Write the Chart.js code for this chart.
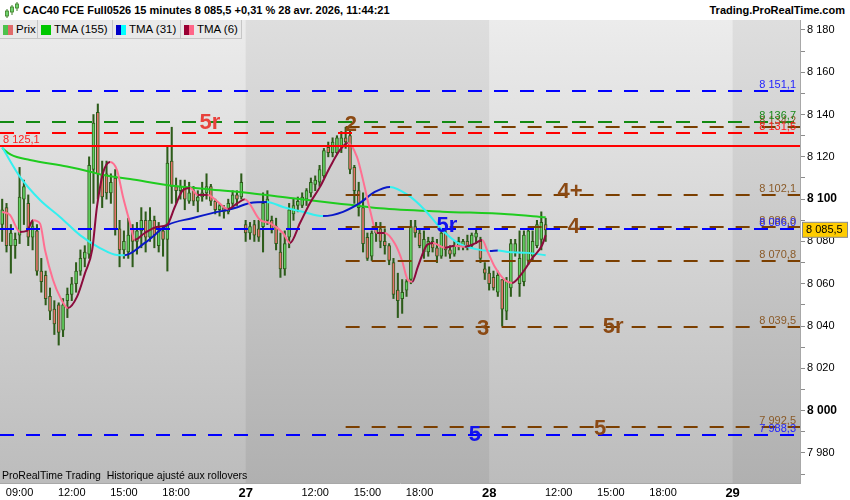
<!DOCTYPE html>
<html><head><meta charset="utf-8">
<script src="https://cdn.jsdelivr.net/npm/chart.js@4/dist/chart.umd.min.js"></script>
<style>
body{margin:0;background:#fff;font-family:"Liberation Sans",Arial,sans-serif;}
#wrap{position:relative;width:850px;height:500px;overflow:hidden;background:#fff;}
#hdr{position:absolute;left:0;top:0;width:850px;height:20px;background:#fff;}
#title{position:absolute;left:23px;top:0;line-height:20px;font-weight:bold;font-size:11px;color:#000;white-space:nowrap;}
#site{position:absolute;right:5px;top:0;line-height:20px;font-weight:bold;font-size:11px;color:#000;}
#cv{position:absolute;left:0;top:20px;}
.cell{position:absolute;top:20px;height:18px;background:#e9e9e9;border-right:1px solid #c6c6c6;border-bottom:1px solid #c6c6c6;font-size:11.5px;line-height:18px;color:#000;white-space:nowrap;}
.sw{position:absolute;top:5px;height:10px;}
.cell span.t{position:absolute;top:0;}
#note{position:absolute;left:2px;top:469px;font-size:10.5px;color:#000;white-space:nowrap;}
</style></head>
<body>
<div id="wrap">
  <canvas id="cv" width="850" height="480"></canvas>
  <div id="hdr">
    <svg width="16" height="18" style="position:absolute;left:4px;top:1px">
      <line x1="3" y1="8" x2="3" y2="17" stroke="#3a7d22" stroke-width="1"/>
      <rect x="1.5" y="10" width="3" height="5" fill="#6fd36f" stroke="#3a7d22" stroke-width="0.8"/>
      <line x1="8" y1="4" x2="8" y2="14" stroke="#3a7d22" stroke-width="1"/>
      <rect x="6.5" y="6" width="3" height="5" fill="#6fd36f" stroke="#3a7d22" stroke-width="0.8"/>
      <line x1="13" y1="1" x2="13" y2="10" stroke="#3a7d22" stroke-width="1"/>
      <rect x="11.5" y="3" width="3" height="4" fill="#6fd36f" stroke="#3a7d22" stroke-width="0.8"/>
    </svg>
    <div id="title">CAC40 FCE Full0526 15 minutes 8 085,5 +0,31 % 28 avr. 2026, 11:44:21</div>
    <div id="site">Trading.ProRealTime.com</div>
  </div>
  <div class="cell" style="left:0;width:37px;"><div class="sw" style="left:3px;width:5px;background:#4cc24c"></div><div class="sw" style="left:8px;width:5px;background:#e06a6a"></div><span class="t" style="left:16px">Prix</span></div>
  <div class="cell" style="left:38px;width:74px;"><div class="sw" style="left:3px;width:10px;background:#00c800"></div><span class="t" style="left:16px">TMA (155)</span></div>
  <div class="cell" style="left:113px;width:67px;"><div class="sw" style="left:3px;width:5px;background:#0000c8"></div><div class="sw" style="left:8px;width:5px;background:#00ffff"></div><span class="t" style="left:16px">TMA (31)</span></div>
  <div class="cell" style="left:181px;width:60px;"><div class="sw" style="left:3px;width:5px;background:#990033"></div><div class="sw" style="left:8px;width:5px;background:#ff6688"></div><span class="t" style="left:16px">TMA (6)</span></div>
  <div id="note">ProRealTime Trading&nbsp; Historique ajusté aux rollovers</div>
</div>
<script>
// ---------- DATA ----------
const opens  = [8088,8096,8078,8078,8083,8100,8098,8082,8085,8066,8064,8054,8048,8050,8038,8052,8055,8060,8066,8072,
                8074,8114,8141,8112,8112,8103,8110,8086,8076,8075,8086,8080,8085,8090,8082,8090,8078,8085,8081,8118,
                8106,8104,8106,8099,8104,8099,8101,8103,8106,8099,8095,8096,8094,8098,8102,8101,
                8088,8084,8088,8086,8087,8090,8090,8087,8075,8067,8082,8093,8097,8097,8100,8103,8107,8108,8111,8124.5,
                8122,8122,8125,8129,8130,8115,8104,8096,8082,8073,8084,8086,8080,8078,8070,8057,8053,8057,8062,8087,
                8084,8075,8075,8080,8077,8073,8084,8076,8074,8078,8078,8080,8078,8082,8080,8067,
                8065,8063,8056,8062,8047,8058,8075,8060,8061,8071,8073,8078,8081,8088];
const highs  = [8100,8098,8088,8084,8115,8109,8102,8090,8088,8072,8066,8058,8052,8051,8053,8058,8063,8070,8076,8078,
                8120,8140,8145,8118,8118,8112,8114,8090,8085,8091,8088,8089,8096,8094,8096,8092,8089,8087,8125,8134,
                8110,8109,8109,8108,8106,8104,8108,8112,8107,8100,8098,8097,8100,8104,8104,8112,
                8090,8089,8090,8090,8103,8104,8092,8091,8084,8085,8098,8100,8101,8103,8105,8110,8111,8116,8124,8127,
                8129,8130,8132,8134,8133,8116,8108,8103,8084,8085,8089,8089,8086,8079,8072,8065,8062,8062,8090,8090,
                8086,8085,8082,8082,8081,8086,8085,8078,8080,8082,8081,8083,8084,8086,8082,8070,
                8068,8066,8066,8062,8063,8081,8081,8085,8085,8086,8085,8090,8094,8091];
const lows   = [8080,8075,8065,8072,8079,8088,8078,8076,8064,8056,8050,8043,8036,8031,8035,8044,8052,8056,8064,8068,
                8072,8098,8100,8096,8100,8098,8083,8068,8072,8072,8068,8074,8077,8075,8080,8077,8075,8073,8066,8098,
                8098,8100,8095,8098,8097,8094,8099,8100,8097,8093,8092,8091,8093,8096,8097,8100,
                8080,8081,8080,8080,8075,8088,8084,8076,8063,8064,8077,8090,8094,8096,8097,8101,8104,8106,8110,8120,
                8120,8121,8122,8124,8112,8098,8092,8075,8071,8071,8080,8077,8074,8069,8053,8044,8046,8054,8060,8082,
                8077,8072,8073,8075,8070,8072,8073,8072,8073,8076,8076,8076,8077,8079,8070,8062,
                8057,8057,8054,8040,8043,8054,8073,8054,8059,8069,8071,8077,8076,8080];
const closes = [8095,8078,8084,8081,8101,8106,8082,8087,8066,8061,8053,8047,8041,8037,8050,8055,8060,8066,8072,8075,
                8116,8136,8112,8101,8103,8108,8086,8076,8080,8083,8080,8085,8090,8082,8090,8083,8085,8081,8117,8106,
                8104,8106,8100,8103,8099,8101,8103,8106,8099,8095,8097,8094,8098,8102,8100,8108,
                8084,8087,8083,8082,8098,8100,8086,8079,8067,8079,8095,8097,8099,8101,8104,8108,8109,8114,8123,8122,
                8127,8129,8129,8127,8114,8104,8096,8079,8072,8084,8086,8080,8078,8071,8055,8052,8056,8061,8087,8084,
                8078,8081,8080,8077,8073,8084,8076,8074,8078,8080,8080,8078,8083,8084,8072,8065,
                8060,8058,8064,8048,8061,8079,8079,8072,8083,8085,8080,8088,8089,8085.5];

// moving averages read at sampled bar positions (bar index, value)
const tma155Idx = [0,2,6.4,14.9,20.2,23.2,29.4,39.8,47.3,58.1,66.9,80,86.9,101.2,116.3,125];
const tma155Val = [8124.2,8121,8118.5,8115.4,8113,8111.4,8109.5,8106.2,8104.7,8102.6,8100.4,8097.3,8095.7,8094.1,8092.9,8091.4];
const tma31Idx = [0,4.1,8.7,13.3,17.9,22.5,26.4,28.2,32.8,38.1,43.7,48.3,53.5,57,60.9,64.6,69.2,73.8,78.4,82.3,85.7,89.2,93.3,97.2,101.2,104.8,108.7,112.2,114,116.3,120.9,125];
const tma31Val = [8124.5,8110.5,8099.6,8091.6,8083,8076.9,8073.6,8073.5,8079.3,8087.8,8091,8093.4,8095.8,8098.2,8098.7,8096.3,8094,8092,8094,8098.2,8103.4,8105.8,8102,8094.9,8085.4,8079.3,8076.5,8075.5,8075.7,8075,8074.6,8073.5];
const tma6Idx = [0,1.8,4.1,5.7,7.1,8.7,9.85,11.7,13.3,15.1,17.2,19.05,20.7,21.8,23.2,24.8,26.4,27.8,29.4,30.5,32.8,35.8,37.9,39.7,41.6,43.2,45,47.3,49.6,51.9,54.2,55.8,59.3,61.6,64.6,66.2,68.5,70.8,73.1,75.4,77.7,79.5,81.6,83,84.6,86.2,88,90.3,91.96,93.3,94.3,95.6,97.7,99.1,101.8,104.1,106.4,108.7,110.4,111.7,113.3,115.6,117.3,119.6,121.9,124.2,125];
const tma6Val = [8094,8092.5,8084.5,8085,8090,8088.5,8076,8061.8,8053.8,8048.5,8053.8,8065,8076,8096.3,8112.4,8117.6,8113.8,8101,8088.7,8080.7,8084,8086.9,8087.8,8096.3,8104.3,8105.3,8102,8102,8098.7,8095.4,8098.2,8100,8090.2,8088.7,8084,8079.3,8088.7,8098.2,8105.8,8115.2,8123.3,8126.6,8120,8109,8094.9,8084,8084,8079,8071,8061.8,8060.9,8068,8078.3,8079.3,8077,8078,8077.5,8079,8080.7,8075,8068,8061.8,8060.4,8065,8072,8078.3,8083];

// axis ticks
const xTickIdx  = [4,16,28,40,56,72,84,96,112,128,140,152,168];
const xTickText = ['09:00','12:00','15:00','18:00','27','12:00','15:00','18:00','28','12:00','15:00','18:00','29'];
const dayLabels = ['27','28','29'];
const dayStartIdx = [0,56,112,168];
const yTickVals = [7970,7980,7990,8000,8010,8020,8030,8040,8050,8060,8070,8080,8090,8100,8110,8120,8130,8140,8150,8160,8170,8180];
const yBoldVals = [8100,8000];

// horizontal levels
const levelPrice = [8134.2,8102.1,8086.9,8070.8,8039.5,7992.5,8151.1,8136.7,8131.5,8125.1,8086.0,7988.3];
const levelText  = ['8 134,2','8 102,1','8 086,9','8 070,8','8 039,5','7 992,5','8 151,1','8 136,7','8 131,5','8 125,1','8 086,0','7 988,3'];
const levelFrom  = [79,79,79,79,79,79,-0.5,-0.5,-0.5,-0.5,-0.5,-0.5];
const levelKind  = ['brown','brown','brown','brown','brown','brown','blue','green','red','redSolid','blue','blue'];

// text marks on chart
const noteText  = ['5r','2','4+','4','5r','3','5r','5','5'];
const noteIdx   = [47.8,80.2,130.6,131.5,102.3,110.6,140.5,108.7,137.5];
const notePrice = [8136.0,8135.1,8103.4,8086.9,8087.3,8038.6,8039.6,7988.5,7991.3];
const noteKind  = ['red','brown','brown','brown','blue','brown','brown','blue','brown'];

const lastPriceText = '8 085,5';

// ---------- STYLE ----------
const FAM = '"Liberation Sans", Arial, sans-serif';
const yMin = 7965.8, yMax = 8184.7;
const lineStyle = {
  brown:{color:'#7b3f00', text:'#8a5a28', dash:[14,12], w:2},
  blue:{color:'#0000ff', text:'#1f1fff', dash:[14,12], w:2},
  green:{color:'#138a13', text:'#1b8a1b', dash:[14,12], w:2},
  red:{color:'#ff0000', text:'#ff1a1a', dash:[14,12], w:2},
  redSolid:{color:'#ff0000', text:'#ff2020', dash:[], w:2}
};
const noteColor = {red:'#e8413c', brown:'#8b4a14', blue:'#1212ee'};
const fmt = v => String(v).replace(/\B(?=(\d{3})+(?!\d))/g,' ');

const idx = opens.map((_,i)=>i);
const wickData = idx.map(i=>({x:i, y:[lows[i], highs[i]]}));
const bodyData = idx.map(i=>({x:i, y:[opens[i], closes[i] === opens[i] ? closes[i]+0.3 : closes[i]]}));
const mk = (a,b)=>a.map((x,k)=>({x, y:b[k]}));

const bgPlugin = {
  id:'bg',
  beforeDraw(chart){
    const {ctx, chartArea:a, scales:{x}} = chart;
    ctx.save();
    const g1 = ctx.createLinearGradient(0,a.top,0,a.bottom);
    g1.addColorStop(0,'#ececec'); g1.addColorStop(1,'#bcbcbc');
    ctx.fillStyle = g1;
    ctx.fillRect(a.left,a.top,a.right-a.left,a.bottom-a.top);
    const g2 = ctx.createLinearGradient(0,a.top,0,a.bottom);
    g2.addColorStop(0,'#dedede'); g2.addColorStop(1,'#b0b0b0');
    ctx.fillStyle = g2;
    for (let d=1; d<dayStartIdx.length; d+=2){
      const x0 = x.getPixelForValue(dayStartIdx[d]);
      const x1 = d+1<dayStartIdx.length ? x.getPixelForValue(dayStartIdx[d+1]) : a.right;
      ctx.fillRect(x0,a.top,Math.min(x1,a.right)-x0,a.bottom-a.top);
    }
    ctx.restore();
  }
};

const levelPlugin = {
  id:'levels',
  afterDatasetsDraw(chart){
    const {ctx, chartArea:a, scales:{x,y}} = chart;
    ctx.save();
    ctx.beginPath(); ctx.rect(a.left,a.top,a.right-a.left,a.bottom-a.top); ctx.clip();
    levelPrice.forEach((p,k)=>{
      const st = lineStyle[levelKind[k]];
      const py = Math.round(y.getPixelForValue(p));
      const x0 = Math.max(a.left, x.getPixelForValue(levelFrom[k]));
      ctx.strokeStyle = st.color; ctx.lineWidth = st.w; ctx.setLineDash(st.dash);
      ctx.beginPath(); ctx.moveTo(x0,py); ctx.lineTo(a.right,py); ctx.stroke();
    });
    ctx.setLineDash([]);
    ctx.font = '11px '+FAM; ctx.textBaseline='alphabetic';
    levelPrice.forEach((p,k)=>{
      const st = lineStyle[levelKind[k]];
      const py = Math.round(y.getPixelForValue(p));
      ctx.fillStyle = st.text;
      if (levelKind[k]==='redSolid'){ ctx.textAlign='left'; ctx.fillText(levelText[k], a.left+3, py-3); }
      else { ctx.textAlign='right'; ctx.fillText(levelText[k], a.right-4, py-3); }
    });
    ctx.font = 'bold 22px '+FAM; ctx.textAlign='center'; ctx.textBaseline='middle';
    noteText.forEach((t,k)=>{
      ctx.fillStyle = noteColor[noteKind[k]];
      ctx.fillText(t, x.getPixelForValue(noteIdx[k]), y.getPixelForValue(notePrice[k]));
    });
    ctx.restore();
  },
  afterDraw(chart){
    const {ctx, chartArea:a, scales:{y}} = chart;
    const py = y.getPixelForValue(closes[closes.length-1]);
    ctx.save();
    ctx.fillStyle='#ffcc00'; ctx.strokeStyle='#8a8a8a'; ctx.lineWidth=1;
    ctx.fillRect(a.right+2.5, py-7.5, 45, 15); ctx.strokeRect(a.right+2.5, py-7.5, 45, 15);
    ctx.fillStyle='#000'; ctx.font='11px '+FAM; ctx.textAlign='left'; ctx.textBaseline='middle';
    ctx.fillText(lastPriceText, a.right+6, py+0.5);
    ctx.restore();
  }
};

const up = '#63d263', down = '#e5736b', edge = '#2d5c1a';
new Chart(document.getElementById('cv'), {
  type:'bar',
  data:{datasets:[
    {type:'line', label:'TMA (6)', data:mk(tma6Idx,tma6Val), borderWidth:2, pointRadius:0, tension:0.4, cubicInterpolationMode:'monotone', order:0,
      borderColor:'#ff6f91', segment:{borderColor:c=>c.p1.parsed.y>=c.p0.parsed.y?'#8b0b3c':'#ff6f91'}},
    {type:'line', label:'TMA (31)', data:mk(tma31Idx,tma31Val), borderWidth:2, pointRadius:0, tension:0.4, cubicInterpolationMode:'monotone', order:1,
      borderColor:'#33f0f0', segment:{borderColor:c=>c.p1.parsed.y>=c.p0.parsed.y?'#0a18c8':'#33f0f0'}},
    {type:'line', label:'TMA (155)', data:mk(tma155Idx,tma155Val), borderWidth:2, pointRadius:0, tension:0.4, cubicInterpolationMode:'monotone', order:2,
      borderColor:'#1fcc1f'},
    {type:'bar', label:'body', data:bodyData, grouped:false, barThickness:3, borderWidth:1, borderSkipped:false, borderColor:edge, order:5,
      backgroundColor:c=>{const i=c.dataIndex; return closes[i]>=opens[i]?up:down;}},
    {type:'bar', label:'wick', data:wickData, grouped:false, barThickness:1.4, backgroundColor:edge, order:6}
  ]},
  options:{
    responsive:false, animation:false, events:[],
    layout:{padding:0},
    plugins:{legend:{display:false}, tooltip:{enabled:false}},
    scales:{
      x:{type:'linear', min:-0.5, max:183.5, offset:false,
         grid:{display:false, drawTicks:false}, border:{display:true, color:'#a8a8a8'},
         afterBuildTicks:s=>{ s.ticks = xTickIdx.map(v=>({value:v})); },
         afterFit:s=>{ s.height = 17; s.paddingLeft = 0; s.paddingRight = 0; },
         ticks:{autoSkip:false, maxRotation:0, minRotation:0, padding:3, color:'#000',
           font:c=>{ const k=xTickIdx.indexOf(c.tick&&c.tick.value); return (k>=0 && dayLabels.includes(xTickText[k]))?{family:FAM,size:13,weight:'bold'}:{family:FAM,size:11}; },
           callback:v=>{ const k=xTickIdx.indexOf(v); return k<0?'':xTickText[k]; }}
      },
      y:{position:'right', min:yMin, max:yMax,
         grid:{drawOnChartArea:false, drawTicks:true, tickLength:5, color:'#8c8c8c'}, border:{display:true, color:'#a8a8a8'},
         afterBuildTicks:s=>{ s.ticks = yTickVals.map(v=>({value:v})); },
         afterFit:s=>{ s.width = 50; s.paddingTop = 0; s.paddingBottom = 0; },
         ticks:{autoSkip:false, padding:2, color:'#000',
           font:c=>(c.tick && yBoldVals.includes(c.tick.value))?{family:FAM,size:12,weight:'bold'}:{family:FAM,size:11},
           callback:v=> v%20===0 ? fmt(v) : ''}
      }
    }
  },
  plugins:[bgPlugin, levelPlugin]
});
</script>
</body></html>
